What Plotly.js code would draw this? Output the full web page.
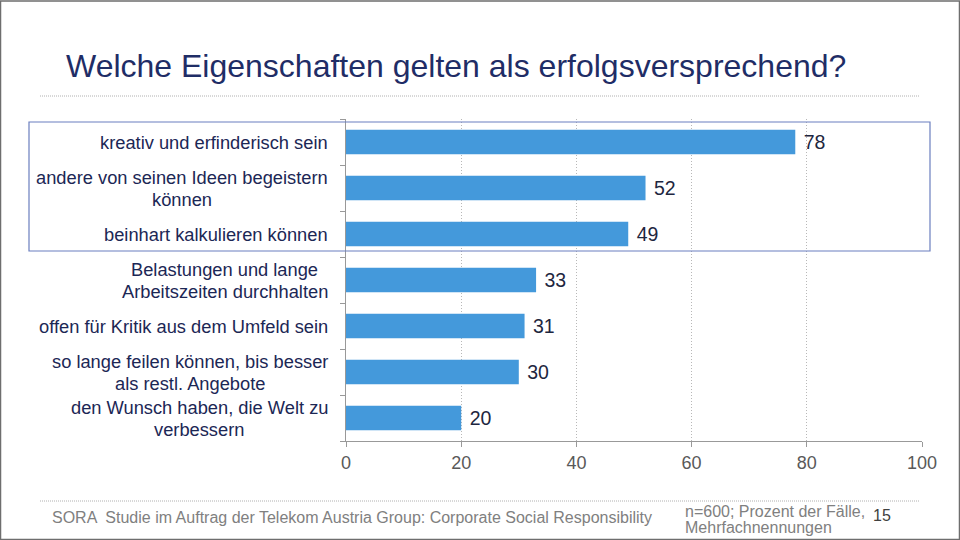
<!DOCTYPE html>
<html><head><meta charset="utf-8">
<script src="https://cdn.plot.ly/plotly-3.0.1.min.js"></script>
<style>html,body{margin:0;padding:0;background:#fff}#c{width:960px;height:540px}</style>
</head><body><div id="c"></div>
<script>
const categories = [
  "kreativ und erfinderisch sein",
  "andere von seinen Ideen begeistern<br>können",
  "beinhart kalkulieren können",
  "Belastungen und lange<br>Arbeitszeiten durchhalten",
  "offen für Kritik aus dem Umfeld sein",
  "so lange feilen können, bis besser<br>als restl. Angebote",
  "den Wunsch haben, die Welt zu<br>verbessern"
];
const values = [78, 52, 49, 33, 31, 30, 20];
const xTicks = [0, 20, 40, 60, 80, 100];

const L = 346, R = 38, T = 119, B = 99, W = 960, H = 540;
const pw = W - L - R, ph = H - T - B;
const px = x => (x - L) / pw;
const py = y => (H - B - y) / ph;

const ids = categories.map((c, i) => "c" + i);

const trace = {
  type: "bar", orientation: "h",
  y: ids, x: values,
  marker: {color: "#4499db", line: {width: 0}},
  width: 0.53,
  text: values.map(v => "\u00a0" + v),
  textposition: "outside",
  textfont: {family: "Liberation Sans, Arial, sans-serif", size: 19.5, color: "#1e2640"},
  cliponaxis: false,
  hoverinfo: "skip"
};

const labelFont = {family: "Liberation Sans, Arial, sans-serif", size: 18.3, color: "#1c2755"};
const annotations = [];
categories.forEach((c, i) => {
  const lines = c.split("<br>");
  const n = lines.length;
  const sp = 22;
  lines.forEach((ln, k) => {
    const center = (k - (n - 1) / 2) * sp;
    annotations.push({
      xref: "paper", yref: "y", x: px(330), y: ids[i],
      xanchor: "right", yanchor: "middle", align: "center",
      text: ln, showarrow: false, yshift: -center,
      font: labelFont, _line: k, _cat: i
    });
  });
});

function measure(text, font) {
  const cv = document.createElement("canvas").getContext("2d");
  cv.font = font.size + "px " + font.family;
  return cv.measureText(text).width;
}
categories.forEach((c, i) => {
  const lines = c.split("<br>");
  if (lines.length < 2) return;
  const ws = lines.map(l => measure(l, labelFont));
  const maxW = Math.max(...ws);
  annotations.filter(a => a._cat === i).forEach(a => {
    a.xshift = -(maxW - ws[a._line]) / 2;
  });
});
annotations.forEach(a => { delete a._line; delete a._cat; });

const footFont = {family: "Liberation Sans, Arial, sans-serif", size: 16, color: "#808080"};
annotations.push(
  {xref: "paper", yref: "paper", x: px(64), y: py(66), xanchor: "left", yanchor: "middle",
   text: "Welche Eigenschaften gelten als erfolgsversprechend?", showarrow: false,
   font: {family: "Liberation Sans, Arial, sans-serif", size: 32, color: "#1f2d66"}},
  {xref: "paper", yref: "paper", x: px(50), y: py(517), xanchor: "left", yanchor: "middle",
   text: "SORA  Studie im Auftrag der Telekom Austria Group: Corporate Social Responsibility", showarrow: false,
   font: footFont},
  {xref: "paper", yref: "paper", x: px(683), y: py(511), xanchor: "left", yanchor: "middle",
   text: "n=600; Prozent der Fälle,", showarrow: false, font: footFont},
  {xref: "paper", yref: "paper", x: px(683), y: py(527), xanchor: "left", yanchor: "middle",
   text: "Mehrfachnennungen", showarrow: false, font: footFont},
  {xref: "paper", yref: "paper", x: px(871), y: py(515), xanchor: "left", yanchor: "middle",
   text: "15", showarrow: false,
   font: {family: "Liberation Sans, Arial, sans-serif", size: 16, color: "#404040"}}
);

const shapes = [
  {type: "line", xref: "paper", yref: "paper", x0: px(40), x1: px(920), y0: py(96), y1: py(96),
   line: {color: "#b0b0b0", width: 1, dash: "1px,1px"}},
  {type: "line", xref: "paper", yref: "paper", x0: px(40), x1: px(920), y0: py(501), y1: py(501),
   line: {color: "#b0b0b0", width: 1, dash: "1px,1px"}},
  {type: "rect", xref: "paper", yref: "paper", x0: px(29), x1: px(930), y0: py(122), y1: py(251),
   line: {color: "#6b7fbf", width: 1.2}},
  {type: "rect", xref: "paper", yref: "paper", x0: px(0.5), x1: px(959.5), y0: py(1), y1: py(539.5),
   line: {color: "#6e6e6e", width: 1.5}}
];

const layout = {
  width: W, height: H,
  margin: {l: L, r: R, t: T, b: B, pad: 0},
  paper_bgcolor: "#ffffff", plot_bgcolor: "#ffffff",
  showlegend: false,
  xaxis: {
    range: [0, 100], tickvals: xTicks, ticktext: xTicks.map(String),
    showgrid: true, gridcolor: "#b8b8b8", griddash: "1px,2px", gridwidth: 1,
    zeroline: false, showline: true, linecolor: "#999999", linewidth: 1,
    ticks: "outside", ticklen: 5, tickcolor: "#999999",
    tickfont: {family: "Liberation Sans, Arial, sans-serif", size: 18, color: "#595959"},
    fixedrange: true
  },
  yaxis: {
    type: "category", categoryorder: "array", categoryarray: ids.slice().reverse(),
    autorange: false, range: [-0.5, 6.5],
    showticklabels: false, showgrid: false, zeroline: false,
    showline: true, linecolor: "#999999", linewidth: 1,
    ticks: "outside", ticklen: 5, tickcolor: "#999999", tickson: "boundaries",
    fixedrange: true
  },
  annotations: annotations,
  shapes: shapes
};

Plotly.newPlot("c", [trace], layout, {staticPlot: true, displayModeBar: false});
</script>
</body></html>
